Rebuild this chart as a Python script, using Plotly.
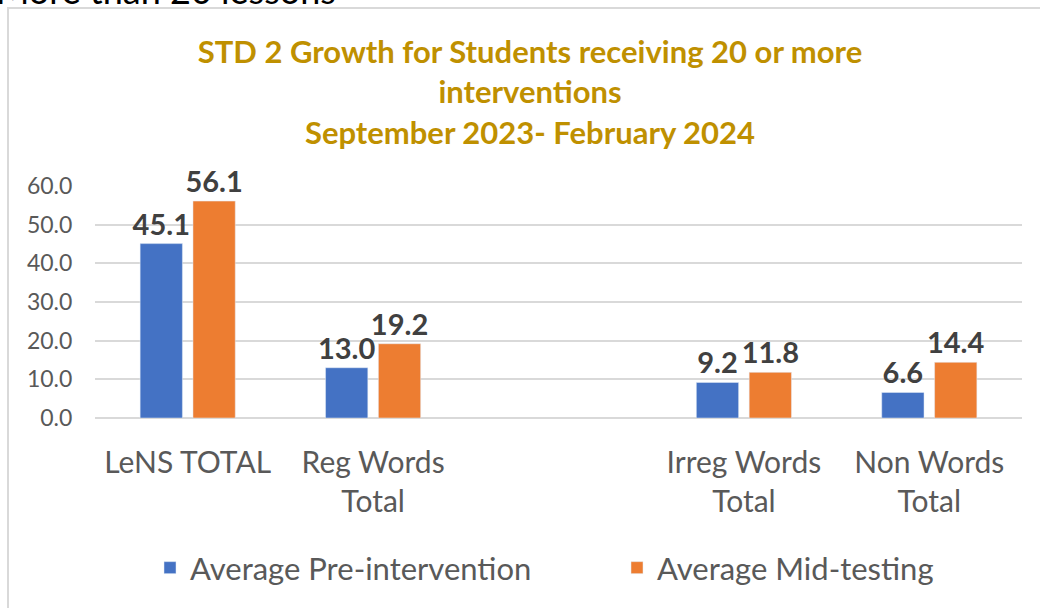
import plotly.graph_objects as go

# data
categories = ["LeNS TOTAL", "Reg Words<br>Total", " ", "Irreg Words<br>Total", "Non Words<br>Total"]
pre_intervention = [45.1, 13.0, None, 9.2, 6.6]
mid_testing = [56.1, 19.2, None, 11.8, 14.4]
y_ticks = [0, 10, 20, 30, 40, 50, 60]

FONT = "Lato"
W, H = 1040, 608
L, R, T, B = 95, 18, 186, 190
pw, ph = W - L - R, H - T - B

def px_x(x):
    return (x - L) / pw

def px_y(y):
    return (H - B - y) / ph

def labels(vals):
    return [None if v is None else f"{v:.1f}" for v in vals]

fig = go.Figure()
for name, vals, color, leg in [("Average Pre-intervention", pre_intervention, "#4472C4", "legend"),
                               ("Average Mid-testing", mid_testing, "#ED7D31", "legend2")]:
    fig.add_trace(go.Bar(x=categories, y=vals, name=name, marker_color=color, legend=leg,
                         text=labels(vals), textposition="outside",
                         constraintext="none", cliponaxis=False,
                         textfont=dict(family=FONT, size=29, color="#404040", weight="bold")))

legend_style = dict(orientation="h", xref="container", yref="container",
                    xanchor="left", y=1 - 568 / H, yanchor="middle",
                    bgcolor="rgba(0,0,0,0)",
                    font=dict(family=FONT, size=31, color="#595959"))

fig.update_layout(
    width=W, height=H,
    margin=dict(l=L, r=R, t=T, b=B),
    paper_bgcolor="white", plot_bgcolor="white",
    barmode="group", bargap=0.43, bargroupgap=0.2,
    font=dict(family=FONT, color="#595959"),
    title=dict(text="STD 2 Growth for Students receiving 20 or more<br>interventions<br>September 2023- February 2024",
               x=530 / W, xanchor="center", y=1 - 63 / H, yanchor="middle",
               font=dict(family=FONT, size=31, color="#BF9000", weight="bold")),
    legend=dict(legend_style, x=150 / W),
    legend2=dict(legend_style, x=617 / W),
    showlegend=True,
)
fig.update_xaxes(type="category", categoryorder="array", categoryarray=categories,
                 showgrid=False, showline=False,
                 ticks="outside", ticklen=18, tickcolor="rgba(0,0,0,0)",
                 tickfont=dict(family=FONT, size=30, color="#595959"))
fig.update_yaxes(range=[0, 60], tickvals=y_ticks, tickformat=".1f",
                 showgrid=True, gridcolor="#D9D9D9", gridwidth=1.5,
                 zeroline=True, zerolinecolor="#D9D9D9", zerolinewidth=1.5,
                 showline=False,
                 ticks="outside", ticklen=17, tickcolor="rgba(0,0,0,0)",
                 tickfont=dict(family=FONT, size=23, color="#595959"))

# chart frame (light grey border) and the cut-off caption above it
fig.add_shape(type="rect", xref="paper", yref="paper",
              x0=px_x(8), x1=px_x(1045), y0=px_y(615), y1=px_y(8),
              line=dict(color="#D9D9D9", width=2), fillcolor="rgba(0,0,0,0)", layer="below")
fig.add_annotation(text="More than 20 lessons", xref="paper", yref="paper",
                   x=px_x(-6), xanchor="left", y=px_y(-10), yanchor="middle",
                   showarrow=False, font=dict(family=FONT, size=36, color="black"))

# drop the default 8px body margin so the figure sits at the page corner
fig.write_html("out.html", config={"displayModeBar": False},
               post_script="document.body.style.margin='0';")
